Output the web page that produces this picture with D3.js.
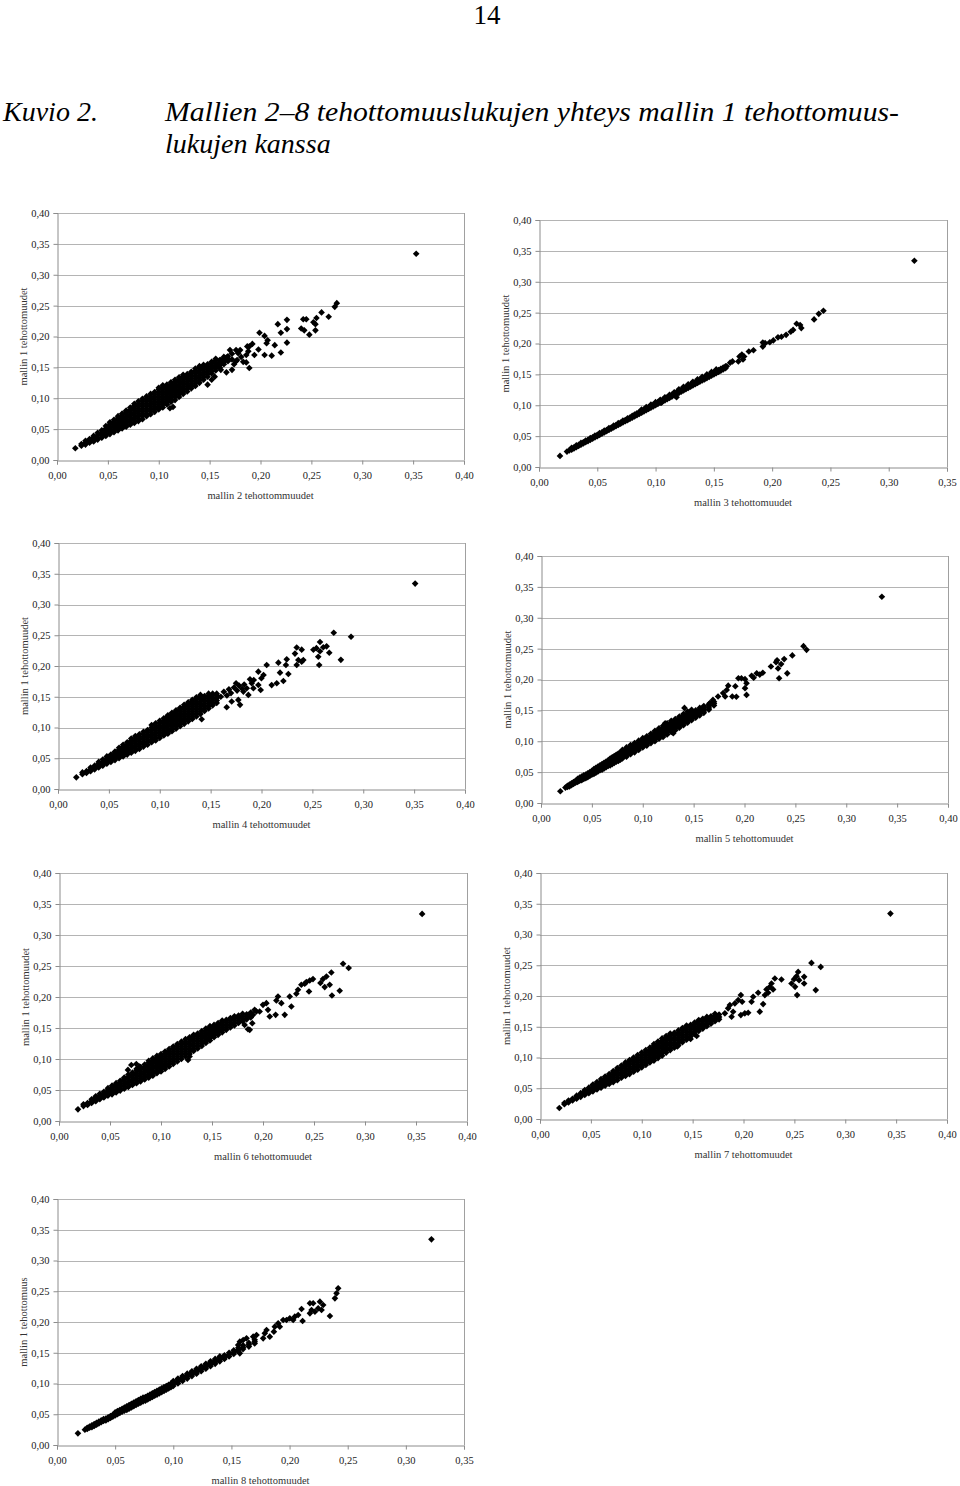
<!DOCTYPE html>
<html><head><meta charset="utf-8">
<script src="https://cdn.jsdelivr.net/npm/d3@7"></script>
<style>body{margin:0;background:#fff}svg{display:block}</style>
</head><body>
<script>
// ---------- texts ----------
const pageNumber = "14";
const captionLabel = "Kuvio 2.";
const captionLines = ["Mallien 2–8 tehottomuuslukujen yhteys mallin 1 tehottomuus-", "lukujen kanssa"];
const yTitles = ["mallin 1 tehottomuudet","mallin 1 tehottomuudet","mallin 1 tehottomuudet","mallin 1 tehottomuudet","mallin 1 tehottomuudet","mallin 1 tehottomuudet","mallin 1 tehottomuus"];
const xTitles = ["mallin 2 tehottommuudet","mallin 3 tehottomuudet","mallin 4 tehottomuudet","mallin 5 tehottomuudet","mallin 6 tehottomuudet","mallin 7 tehottomuudet","mallin 8 tehottomuudet"];

// ---------- ticks ----------
const yTicks = [0,0.05,0.10,0.15,0.20,0.25,0.30,0.35,0.40];
const xTicks40 = [0,0.05,0.10,0.15,0.20,0.25,0.30,0.35,0.40];
const xTicks35 = [0,0.05,0.10,0.15,0.20,0.25,0.30,0.35];

// ---------- data ----------
// scattered points: [mallin k, mallin 1]
const mallin2 = [[.018,.019],[.353,.334],[.275,.254],[.273,.248],[.260,.239],[.267,.232],[.255,.230],[.252,.223],[.254,.220],[.245,.228],[.242,.228],[.240,.213],[.243,.210],[.248,.203],[.254,.210],[.226,.227],[.217,.220],[.226,.212],[.220,.206],[.226,.190],[.220,.174],[.199,.206],[.204,.201],[.207,.194],[.206,.189],[.214,.186],[.204,.170],[.211,.169],[.198,.179],[.194,.170],[.189,.184],[.188,.176],[.186,.170],[.186,.158],[.189,.149],[.180,.178],[.178,.173],[.181,.167],[.183,.159],[.177,.162],[.152,.130],[.155,.135],[.148,.122],[.111,.084],[.114,.086],[.1665,.166],[.172,.163],[.174,.155],[.172,.146],[.1665,.142],[.161,.146],[.159,.154],[.161,.162],[.176,.160],[.176,.178],[.187,.184],[.192,.188],[.170,.178],[.172,.172]];
const mallin3 = [[.018,.018],[.322,.334],[.244,.253],[.240,.248],[.236,.239],[.225,.225],[.224,.230],[.221,.232],[.218,.222],[.216,.219],[.212,.214],[.208,.211],[.205,.210],[.201,.205],[.198,.202],[.194,.2005],[.192,.195],[.192,.2016],[.184,.189],[.180,.187],[.176,.179],[.175,.174],[.174,.182],[.172,.179],[.171,.171],[.166,.171],[.164,.169],[.161,.163],[.118,.113],[.105,.104]];
const mallin4 = [[.018,.019],[.351,.334],[.271,.254],[.288,.2475],[.278,.210],[.2575,.239],[.264,.232],[.2607,.2305],[.254,.229],[.251,.2265],[.2575,.224],[.2666,.2215],[.2558,.215],[.2567,.2016],[.2346,.230],[.2395,.2266],[.2329,.2202],[.2362,.2097],[.2411,.2097],[.2346,.2016],[.2395,.207],[.2248,.2108],[.2166,.2054],[.224,.2016],[.2182,.1892],[.2264,.187],[.2215,.1757],[.215,.172],[.21,.169],[.2051,.2016],[.1969,.1908],[.202,.1854],[.1999,.180],[.1924,.1773],[.1969,.1692],[.1992,.161],[.1887,.1784],[.1904,.1719],[.1855,.1638],[.192,.1638],[.1871,.153],[.1822,.1584],[.1772,.1449],[.1789,.1368],[.1658,.133],[.1707,.1422],[.1412,.1134],[.160,.150],[.163,.158],[.166,.152],[.168,.162],[.170,.156],[.173,.165],[.176,.160],[.178,.168],[.181,.163],[.175,.172],[.183,.170]];
const mallin5 = [[.019,.019],[.335,.334],[.258,.254],[.261,.248],[.247,.239],[.242,.210],[.234,.202],[.239,.233],[.236,.225],[.232,.231],[.233,.218],[.231,.228],[.226,.221],[.218,.211],[.215,.208],[.212,.210],[.207,.206],[.209,.203],[.202,.175],[.2005,.186],[.202,.194],[.197,.202],[.194,.202],[.2005,.2005],[.191,.189],[.184,.190],[.1825,.183],[.179,.178],[.181,.1725],[.188,.1725],[.192,.172],[.174,.1725],[.169,.167],[.166,.162],[.141,.154],[.130,.113],[.122,.129]];
const mallin6 = [[.0186,.0188],[.356,.334],[.2785,.2536],[.284,.2467],[.267,.2396],[.2622,.2331],[.2588,.2289],[.2563,.2225],[.2605,.216],[.2654,.2197],[.2676,.2024],[.2752,.21],[.249,.2289],[.2458,.2267],[.2425,.224],[.2409,.2213],[.2376,.2197],[.2343,.2116],[.2327,.2052],[.2451,.2089],[.2262,.2008],[.2278,.1846],[.2213,.1712],[.2147,.2008],[.2131,.1944],[.218,.1901],[.2066,.1685],[.2049,.1793],[.2033,.1901],[.2124,.1712],[.1935,.1766],[.1902,.1712],[.187,.147],[.1265,.0985],[.128,.104],[.0676,.0824],[.0709,.0904],[.0758,.092],[.079,.0877],[.1853,.148],[.1895,.1577],[.182,.155],[.2,.1873],[.1967,.1766],[.1918,.1793]];
const mallin7 = [[.019,.0178],[.3444,.334],[.2668,.2538],[.2759,.2473],[.271,.2096],[.2537,.2392],[.2521,.2322],[.2546,.2258],[.2497,.2274],[.2472,.2204],[.2507,.2149],[.2596,.2311],[.2596,.2204],[.2527,.2015],[.2373,.2269],[.2308,.2285],[.2275,.2204],[.2259,.2149],[.2226,.2107],[.2291,.2107],[.2242,.2052],[.221,.2015],[.2144,.2052],[.2193,.1868],[.216,.1745],[.2095,.1987],[.2079,.1906],[.1974,.2015],[.1987,.1906],[.2013,.1718],[.1974,.169],[.2046,.1728],[.1898,.1744],[.1883,.1663],[.1849,.1799],[.1817,.1718],[.1866,.1852],[.1915,.188],[.1948,.1934],[.154,.135],[.148,.130],[.135,.118]];
const mallin8 = [[.018,.019],[.322,.3344],[.2418,.2547],[.2404,.2466],[.239,.2385],[.2347,.2098],[.2289,.2276],[.2261,.2331],[.2275,.2195],[.2246,.2222],[.2203,.2304],[.2175,.2304],[.2218,.2168],[.2189,.2195],[.2175,.2141],[.2103,.2211],[.2112,.2016],[.2074,.2114],[.2045,.2087],[.2031,.2033],[.2002,.206],[.1974,.2033],[.1945,.2033],[.1902,.1978],[.1916,.1924],[.1873,.1924],[.1865,.1843],[.183,.1762],[.1787,.1816],[.1773,.1734],[.1802,.187],[.1716,.1789],[.1687,.1762],[.163,.1734],[.1601,.1707],[.1572,.168],[.1558,.1626],[.1572,.149]];

// dense cloud, read column by column: [mallin k, [mallin 1 values]]
const mallin2Dense = [[.024,[.023,.026]],[.028,[.025,.028,.031]],[.032,[.028,.031,.034]],[.036,[.030,.033,.036,.039]],[.040,[.033,.036,.040,.044]],[.044,[.036,.040,.044,.048]],[.048,[.039,.043,.047,.051,.055]],[.052,[.042,.046,.050,.054,.058,.061]],[.056,[.045,.049,.053,.057,.061,.065]],[.060,[.048,.052,.056,.060,.064,.068,.071]],[.064,[.051,.055,.059,.063,.067,.071,.075]],[.068,[.054,.058,.062,.066,.070,.074,.078,.080]],[.072,[.057,.061,.065,.069,.073,.077,.081,.085]],[.076,[.060,.064,.068,.072,.076,.080,.084,.088,.091]],[.080,[.063,.067,.071,.075,.079,.083,.087,.091,.095]],[.084,[.066,.071,.075,.079,.083,.087,.091,.095,.099]],[.088,[.071,.075,.079,.083,.087,.091,.095,.099,.103]],[.092,[.074,.079,.083,.087,.091,.095,.099,.103,.107]],[.096,[.078,.082,.086,.090,.094,.098,.102,.106,.110]],[.100,[.082,.086,.090,.094,.098,.102,.106,.110,.114,.117]],[.104,[.085,.090,.094,.098,.102,.106,.110,.114,.118,.121]],[.108,[.090,.094,.098,.102,.106,.110,.114,.118,.122]],[.112,[.094,.098,.102,.106,.110,.114,.118,.122,.126]],[.116,[.097,.102,.106,.110,.114,.118,.122,.126,.130]],[.120,[.102,.106,.110,.114,.118,.122,.126,.130,.134]],[.124,[.107,.111,.115,.119,.123,.127,.131,.135,.138]],[.128,[.111,.115,.119,.123,.127,.131,.135,.139]],[.132,[.116,.120,.124,.128,.132,.136,.140,.143]],[.136,[.120,.124,.128,.132,.136,.140,.144,.148]],[.140,[.125,.129,.133,.137,.141,.145,.149,.152]],[.144,[.130,.134,.138,.142,.146,.150,.154]],[.148,[.135,.139,.143,.147,.151,.155]],[.152,[.140,.144,.148,.152,.156,.159]],[.156,[.145,.149,.153,.157,.161,.164]],[.160,[.150,.154,.158,.162]],[.164,[.155,.159,.163,.167]],[.168,[.160,.164,.168]]];
const mallin3Dense = [[.024,[.025]],[.026,[.027]],[.028,[.028,.031]],[.030,[.030,.032]],[.032,[.032,.035]],[.034,[.034,.036]],[.036,[.036,.039]],[.038,[.038,.040]],[.040,[.040,.043]],[.042,[.042,.044]],[.044,[.044,.047]],[.046,[.046,.048]],[.048,[.048,.051]],[.050,[.050,.052]],[.052,[.052,.055]],[.054,[.054,.056]],[.056,[.056,.059]],[.058,[.058,.060]],[.060,[.060,.063]],[.062,[.062,.064]],[.064,[.064,.067]],[.066,[.066,.068]],[.068,[.068,.071]],[.070,[.070,.072]],[.072,[.072,.075]],[.074,[.074,.076]],[.076,[.076,.079]],[.078,[.078,.080]],[.080,[.080,.083]],[.082,[.082,.085]],[.084,[.084,.087]],[.086,[.086,.089]],[.088,[.088,.091,.093]],[.090,[.090,.093]],[.092,[.092,.095,.097]],[.094,[.094,.097]],[.096,[.096,.099,.101]],[.098,[.098,.101]],[.100,[.100,.103,.105]],[.102,[.102,.105]],[.104,[.104,.107,.109]],[.106,[.106,.109]],[.108,[.108,.111,.113]],[.110,[.110,.113]],[.112,[.112,.115,.117]],[.114,[.114,.117]],[.116,[.116,.119,.121]],[.118,[.118,.121]],[.120,[.120,.123,.126]],[.122,[.122,.125]],[.124,[.124,.127,.130]],[.126,[.126,.129]],[.128,[.128,.131,.134]],[.130,[.130,.133]],[.132,[.132,.135,.138]],[.134,[.134,.137]],[.136,[.136,.139,.142]],[.138,[.138,.141]],[.140,[.140,.143,.146]],[.142,[.142,.145]],[.144,[.144,.147,.150]],[.146,[.146,.149]],[.148,[.148,.151,.154]],[.150,[.150,.153]],[.152,[.152,.155,.158]],[.154,[.154,.157]],[.156,[.156,.159]],[.158,[.158,.161]],[.160,[.160,.163]]];
const mallin4Dense = [[.024,[.024,.027]],[.028,[.026,.029]],[.032,[.029,.032,.035]],[.036,[.032,.035,.038]],[.040,[.035,.038,.041,.044]],[.044,[.038,.041,.044,.048]],[.048,[.041,.044,.047,.050,.053]],[.052,[.044,.047,.050,.053,.056]],[.056,[.047,.050,.053,.056,.059,.061]],[.060,[.050,.053,.056,.060,.064,.067]],[.064,[.053,.057,.061,.065,.069,.072]],[.068,[.056,.060,.064,.068,.072,.076]],[.072,[.059,.063,.067,.071,.075,.079,.082]],[.076,[.062,.066,.070,.074,.078,.082,.086]],[.080,[.065,.069,.073,.077,.081,.085,.089]],[.084,[.069,.073,.077,.081,.085,.089,.093]],[.088,[.072,.076,.080,.084,.088,.092,.096]],[.092,[.076,.080,.084,.088,.092,.096,.100,.104]],[.096,[.079,.083,.087,.091,.095,.099,.103,.107]],[.100,[.083,.087,.091,.095,.099,.103,.107,.111]],[.104,[.087,.091,.095,.099,.103,.107,.111,.115]],[.108,[.090,.094,.098,.102,.106,.110,.114,.118,.120]],[.112,[.094,.098,.102,.106,.110,.114,.118,.122,.124]],[.116,[.098,.102,.106,.110,.114,.118,.122,.126,.128]],[.120,[.102,.106,.110,.114,.118,.122,.126,.130,.132]],[.124,[.106,.110,.114,.118,.122,.126,.130,.134,.137]],[.128,[.110,.114,.118,.122,.126,.130,.134,.138,.141]],[.132,[.114,.118,.122,.126,.130,.134,.138,.142,.145]],[.136,[.118,.122,.126,.130,.134,.138,.142,.146,.149]],[.140,[.122,.126,.130,.134,.138,.142,.146,.150,.153]],[.144,[.127,.131,.135,.139,.143,.147,.151]],[.148,[.131,.135,.139,.143,.147,.151,.155]],[.152,[.136,.140,.144,.148,.152,.155]],[.156,[.140,.144,.148,.152,.155]]];
const mallin5Dense = [[.024,[.025]],[.026,[.026,.028]],[.028,[.027,.030]],[.030,[.029,.032]],[.032,[.031,.034]],[.034,[.033,.036]],[.036,[.034,.037,.039]],[.038,[.036,.039,.041]],[.040,[.037,.040,.043]],[.042,[.039,.042,.045]],[.044,[.040,.043,.046]],[.046,[.042,.045,.048]],[.048,[.044,.047,.050]],[.050,[.046,.049,.052]],[.052,[.047,.050,.053,.055]],[.054,[.049,.052,.055,.057]],[.056,[.051,.054,.057,.059]],[.058,[.053,.056,.059,.061]],[.060,[.054,.057,.060,.063]],[.062,[.056,.059,.062,.065]],[.064,[.058,.061,.064,.067]],[.066,[.060,.063,.066,.069]],[.068,[.061,.064,.067,.070,.072]],[.070,[.063,.066,.069,.072,.074]],[.072,[.065,.068,.071,.074,.076]],[.074,[.067,.070,.073,.076,.078]],[.076,[.068,.071,.074,.077,.080]],[.078,[.070,.073,.076,.079,.082]],[.080,[.072,.075,.078,.081,.084,.086]],[.084,[.075,.078,.081,.084,.087,.090]],[.088,[.079,.082,.085,.088,.091,.094]],[.092,[.082,.085,.088,.091,.094,.097]],[.096,[.086,.089,.092,.095,.098,.101]],[.100,[.090,.093,.096,.099,.102,.105]],[.104,[.093,.096,.099,.102,.105,.108]],[.108,[.097,.100,.103,.106,.109,.112]],[.112,[.100,.103,.106,.109,.112,.115,.117]],[.116,[.104,.107,.110,.113,.116,.119,.121]],[.120,[.107,.110,.113,.116,.119,.122,.125]],[.124,[.111,.114,.117,.120,.123,.126,.129]],[.128,[.115,.118,.121,.124,.127,.130,.133]],[.132,[.118,.121,.124,.127,.130,.133,.136]],[.136,[.122,.125,.128,.131,.134,.137,.140]],[.140,[.126,.129,.132,.135,.138,.141,.144]],[.144,[.130,.133,.136,.139,.142,.145,.148]],[.148,[.134,.137,.140,.143,.146,.149,.151]],[.152,[.138,.141,.144,.147,.150]],[.156,[.142,.145,.148,.151,.154]],[.160,[.146,.149,.152,.155,.157]],[.165,[.151,.154,.157,.160]],[.170,[.158,.161,.164]]];
const mallin6Dense = [[.024,[.024,.027]],[.028,[.026,.029]],[.032,[.029,.032,.035]],[.036,[.032,.035,.038,.040]],[.040,[.035,.038,.041,.044]],[.044,[.038,.041,.044,.047]],[.048,[.041,.044,.047,.050,.053]],[.052,[.043,.046,.050,.054,.057]],[.056,[.046,.050,.054,.058,.061]],[.060,[.049,.053,.057,.061,.065]],[.064,[.052,.056,.060,.064,.068,.070]],[.068,[.055,.059,.063,.067,.071,.075]],[.072,[.058,.062,.066,.070,.074,.078]],[.076,[.061,.065,.069,.073,.077,.081,.084]],[.080,[.064,.068,.072,.076,.080,.084,.087]],[.084,[.067,.071,.075,.079,.083,.087,.091]],[.088,[.070,.074,.078,.082,.086,.090,.094,.097]],[.092,[.073,.077,.081,.085,.089,.093,.097,.101]],[.096,[.077,.081,.085,.089,.093,.097,.101,.105]],[.100,[.080,.084,.088,.092,.096,.100,.104,.108]],[.104,[.084,.088,.092,.096,.100,.104,.108,.112]],[.108,[.088,.092,.096,.100,.104,.108,.112,.116]],[.112,[.092,.096,.100,.104,.108,.112,.116,.120]],[.116,[.096,.100,.104,.108,.112,.116,.120,.124]],[.120,[.100,.104,.108,.112,.116,.120,.124,.128]],[.124,[.104,.108,.112,.116,.120,.124,.128,.132]],[.128,[.108,.112,.116,.120,.124,.128,.132,.135]],[.132,[.113,.117,.121,.125,.129,.133,.137,.139]],[.136,[.117,.121,.125,.129,.133,.137,.141]],[.140,[.121,.125,.129,.133,.137,.141,.145]],[.144,[.126,.130,.134,.138,.142,.146,.149]],[.148,[.130,.134,.138,.142,.146,.150,.153]],[.152,[.135,.139,.143,.147,.151,.155]],[.156,[.139,.143,.147,.151,.155,.158]],[.160,[.143,.147,.151,.155,.159,.162]],[.164,[.147,.151,.155,.159,.163]],[.168,[.151,.155,.159,.163,.166]],[.172,[.154,.158,.162,.166,.169]],[.176,[.158,.162,.166,.170]],[.180,[.161,.165,.169,.173]],[.184,[.164,.168,.172]],[.188,[.167,.171,.175]]];
const mallin7Dense = [[.024,[.024,.026]],[.028,[.027,.030]],[.032,[.030,.033]],[.036,[.033,.036,.038]],[.040,[.036,.039,.042]],[.044,[.039,.042,.045,.047]],[.048,[.042,.045,.048,.051]],[.052,[.045,.048,.051,.054,.056]],[.056,[.048,.051,.054,.057,.060]],[.060,[.051,.054,.057,.061,.065]],[.064,[.054,.058,.062,.066,.069]],[.068,[.057,.061,.065,.069,.073]],[.072,[.060,.064,.068,.072,.076,.078]],[.076,[.063,.067,.071,.075,.079,.083]],[.080,[.067,.071,.075,.079,.083,.087]],[.084,[.070,.074,.078,.082,.086,.090,.092]],[.088,[.073,.077,.081,.085,.089,.093,.096]],[.092,[.077,.081,.085,.089,.093,.097,.100]],[.096,[.080,.084,.088,.092,.096,.100,.104]],[.100,[.084,.088,.092,.096,.100,.104,.108]],[.104,[.088,.092,.096,.100,.104,.108,.112]],[.108,[.092,.096,.100,.104,.108,.112,.116]],[.112,[.095,.099,.103,.107,.111,.115,.119,.122]],[.116,[.099,.103,.107,.111,.115,.119,.123,.126]],[.120,[.103,.107,.111,.115,.119,.123,.127,.131]],[.124,[.108,.112,.116,.120,.124,.128,.132,.135]],[.128,[.112,.116,.120,.124,.128,.132,.136,.139]],[.132,[.116,.120,.124,.128,.132,.136,.140]],[.136,[.120,.124,.128,.132,.136,.140,.144]],[.140,[.125,.129,.133,.137,.141,.145,.148]],[.144,[.129,.133,.137,.141,.145,.149,.152]],[.148,[.134,.138,.142,.146,.150,.153]],[.152,[.138,.142,.146,.150,.154,.157]],[.156,[.143,.147,.151,.155,.159,.161]],[.160,[.147,.151,.155,.159,.163]],[.164,[.151,.155,.159,.163,.166]],[.168,[.155,.159,.163,.167]],[.172,[.159,.163,.167,.171]],[.176,[.162,.166,.170]]];
const mallin8Dense = [[.024,[.025]],[.026,[.026,.028]],[.028,[.028,.030]],[.030,[.029,.032]],[.032,[.031,.034]],[.034,[.033,.036]],[.036,[.035,.038]],[.038,[.037,.040]],[.040,[.039,.042]],[.042,[.040,.043]],[.044,[.042,.045]],[.046,[.044,.047]],[.048,[.046,.049]],[.050,[.048,.051,.053]],[.052,[.050,.053,.055]],[.054,[.052,.055,.057]],[.056,[.054,.057,.059]],[.058,[.056,.059,.061]],[.060,[.057,.060,.063]],[.062,[.059,.062,.065]],[.064,[.061,.064,.067]],[.066,[.063,.066,.069]],[.068,[.065,.068,.071]],[.070,[.067,.070,.073]],[.072,[.069,.072,.075]],[.074,[.071,.074,.077]],[.076,[.072,.075,.078]],[.078,[.074,.077,.080]],[.080,[.076,.079,.082]],[.082,[.078,.081,.084]],[.084,[.080,.083,.086]],[.086,[.082,.085,.088]],[.088,[.084,.087,.090]],[.090,[.086,.089,.092]],[.092,[.088,.091,.094]],[.094,[.090,.093,.096]],[.096,[.092,.095,.098]],[.098,[.094,.097,.100]],[.100,[.096,.099,.102,.104]],[.104,[.100,.103,.106,.108]],[.108,[.104,.107,.110,.112]],[.112,[.108,.111,.114,.116]],[.116,[.112,.115,.118,.120]],[.120,[.116,.119,.122,.124]],[.124,[.120,.123,.126,.128]],[.128,[.124,.127,.130,.132]],[.132,[.128,.131,.134,.136]],[.136,[.132,.135,.138,.140]],[.140,[.136,.139,.142,.144]],[.144,[.140,.143,.146]],[.148,[.144,.147,.150]],[.152,[.148,.151,.154]],[.156,[.152,.155,.158]],[.160,[.156,.159,.162]],[.165,[.160,.163,.166]],[.170,[.165,.168,.171]]];

// ---------- layout (positions only) ----------
const panels = [
  {pts: mallin2, dense: mallin2Dense, xTicks: xTicks40, xMax: 0.40, l: 57, r: 464, t: 213, b: 460},
  {pts: mallin3, dense: mallin3Dense, xTicks: xTicks35, xMax: 0.35, l: 539, r: 947, t: 220, b: 467},
  {pts: mallin4, dense: mallin4Dense, xTicks: xTicks40, xMax: 0.40, l: 58, r: 465, t: 543, b: 789},
  {pts: mallin5, dense: mallin5Dense, xTicks: xTicks40, xMax: 0.40, l: 541, r: 948, t: 556, b: 803},
  {pts: mallin6, dense: mallin6Dense, xTicks: xTicks40, xMax: 0.40, l: 59, r: 467, t: 873, b: 1121},
  {pts: mallin7, dense: mallin7Dense, xTicks: xTicks40, xMax: 0.40, l: 540, r: 947, t: 873, b: 1119},
  {pts: mallin8, dense: mallin8Dense, xTicks: xTicks35, xMax: 0.35, l: 57, r: 464, t: 1199, b: 1445}
];

const W = 960, H = 1486;
const serif = "'Liberation Serif','Times New Roman',serif";
const fmt = v => d3.format(".2f")(v).replace(".", ",");

const svg = d3.select("body").append("svg").attr("width", W).attr("height", H)
  .style("background", "#fff");

// header
svg.append("text").attr("x", 487).attr("y", 24).attr("text-anchor", "middle")
  .attr("font-family", serif).attr("font-size", 27).attr("fill", "#000").text(pageNumber);
svg.append("text").attr("x", 3).attr("y", 121)
  .attr("font-family", serif).attr("font-style", "italic").attr("font-size", 28).attr("fill", "#000").text(captionLabel);
svg.append("text").attr("x", 165).attr("y", 121)
  .attr("font-family", serif).attr("font-style", "italic").attr("font-size", 28).attr("fill", "#000")
  .attr("textLength", 734).attr("lengthAdjust", "spacingAndGlyphs").text(captionLines[0]);
svg.append("text").attr("x", 165).attr("y", 153)
  .attr("font-family", serif).attr("font-style", "italic").attr("font-size", 28).attr("fill", "#000").text(captionLines[1]);

const diamond = d3.symbol().type(d3.symbolSquare).size(22)();

panels.forEach((p, i) => {
  const x = d3.scaleLinear().domain([0, p.xMax]).range([p.l, p.r]);
  const y = d3.scaleLinear().domain([0, 0.40]).range([p.b, p.t]);
  const g = svg.append("g");
  const data = p.dense.flatMap(([xv, ys]) => ys.map(yv => [xv, yv])).concat(p.pts);

  // gridlines
  g.append("g").selectAll("line").data(yTicks.filter(v => v > 0)).join("line")
    .attr("x1", p.l).attr("x2", p.r)
    .attr("y1", d => Math.round(y(d)) + 0.5).attr("y2", d => Math.round(y(d)) + 0.5)
    .attr("stroke", "#b4b4b4").attr("stroke-width", 1);
  g.append("line").attr("x1", p.r + 0.5).attr("x2", p.r + 0.5).attr("y1", p.t).attr("y2", p.b)
    .attr("stroke", "#a0a0a0");

  // axes
  const yAxis = d3.axisLeft(y).tickValues(yTicks).tickFormat(fmt).tickSize(4).tickPadding(4);
  const xAxis = d3.axisBottom(x).tickValues(p.xTicks).tickFormat(fmt).tickSize(4).tickPadding(7);
  const ya = g.append("g").attr("transform", `translate(${p.l + 0.5},0)`).call(yAxis);
  const xa = g.append("g").attr("transform", `translate(0,${p.b + 0.5})`).call(xAxis);
  [ya, xa].forEach(a => {
    a.select(".domain").attr("stroke", "#8c8c8c");
    a.selectAll(".tick line").attr("stroke", "#8c8c8c");
    a.selectAll("text").attr("font-family", serif).attr("font-size", 10.5).attr("fill", "#222");
  });

  // points
  g.append("g").selectAll("path").data(data).join("path")
    .attr("d", diamond)
    .attr("transform", d => `translate(${x(d[0])},${y(d[1])}) rotate(45)`)
    .attr("fill", "#000");

  // axis titles
  g.append("text").attr("x", (p.l + p.r) / 2).attr("y", p.b + 39).attr("text-anchor", "middle")
    .attr("font-family", serif).attr("font-size", 10.5).attr("fill", "#333").text(xTitles[i]);
  g.append("text").attr("transform", `translate(${p.l - 30},${(p.t + p.b) / 2}) rotate(-90)`)
    .attr("text-anchor", "middle")
    .attr("font-family", serif).attr("font-size", 10.5).attr("fill", "#333").text(yTitles[i]);
});
</script>
</body></html>
